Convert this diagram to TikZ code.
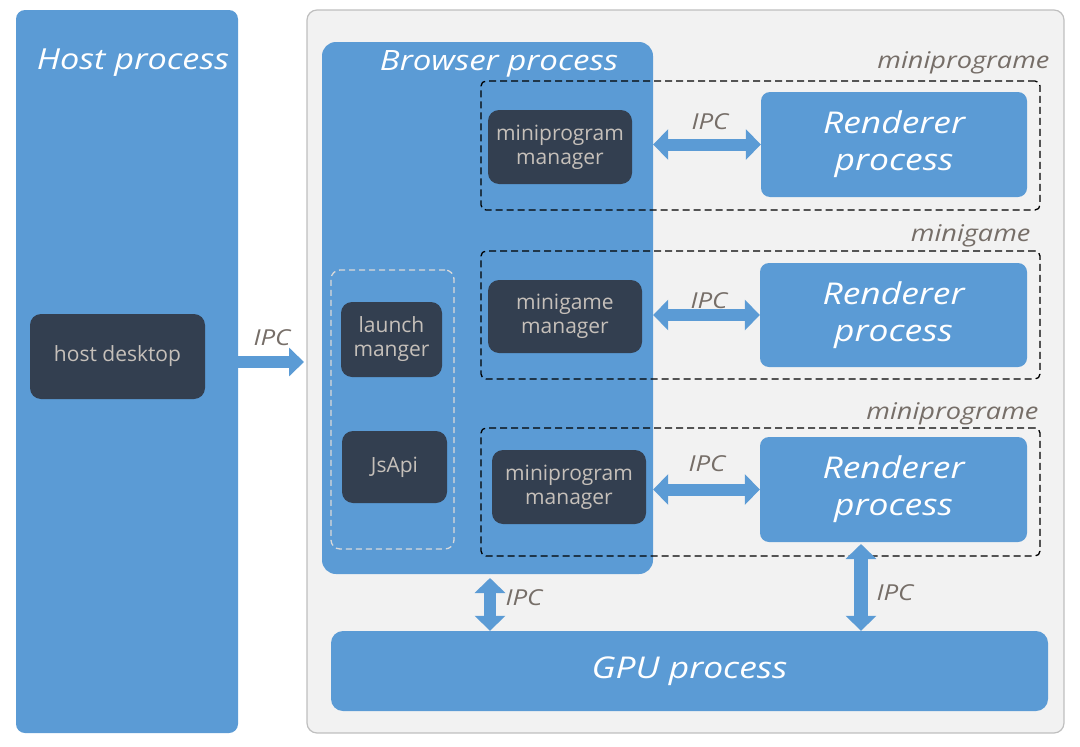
\documentclass[tikz,border=0pt]{standalone}
\usepackage{fontspec}
\setmainfont{Open Sans}
\newfontfamily\hand{Open Sans}[FakeStretch=1.18]
\newfontfamily\ui{Open Sans}
\usetikzlibrary{arrows.meta}
\definecolor{pblue}{HTML}{5B9BD5}
\definecolor{pdark}{HTML}{333F50}
\definecolor{pgraybg}{HTML}{F2F2F2}
\definecolor{pgrayline}{HTML}{BFBFBF}
\definecolor{plight}{HTML}{D9D9D9}
\definecolor{ptext}{HTML}{C6C0BA}
\definecolor{pipc}{HTML}{766E68}
\tikzset{
  bluebox/.style={fill=pblue, draw=none, inner sep=0pt, rounded corners=9pt},
  darkbox/.style={fill=pdark, draw=none, inner sep=0pt, rounded corners=11pt, text=ptext,
    font=\ui\fontsize{21}{24}\selectfont, align=center},
  groupbox/.style={draw=black, dashed, line width=1.3pt, dash pattern=on 7pt off 4pt, rounded corners=5pt, inner sep=0pt},
  title/.style={text=white, font=\hand\itshape\fontsize{30}{37}\selectfont, align=center},
  grouplabel/.style={text=pipc, font=\hand\itshape\fontsize{23}{27}\selectfont},
  ipclabel/.style={text=pipc, font=\hand\itshape\fontsize{22}{26}\selectfont},
  fat/.style={draw=pblue, line width=12pt},
  fatone/.style={fat, -{Triangle[length=15pt,width=28pt]}},
  fattwo/.style={fat, {Triangle[length=15pt,width=30pt]}-{Triangle[length=15pt,width=30pt]}},
}
\begin{document}
\begin{tikzpicture}[x=1pt,y=-1pt]
\useasboundingbox (0,0) rectangle (1080,747);
% containers
\node[bluebox, minimum width=222pt, minimum height=723pt] (host) at (127,371.5) {};
\node[fill=pgraybg, draw=pgrayline, line width=1.2pt, rounded corners=10pt, inner sep=0pt,
  minimum width=757pt, minimum height=723pt] (outer) at (685.5,371.5) {};
\node[bluebox, rounded corners=14pt, minimum width=331pt, minimum height=532pt] (browser) at (487.5,308) {};
% titles
\node[title, font=\hand\itshape\fontsize{29}{34}\selectfont] (hosttitle) at (133,63) {Host process};
\node[title, font=\hand\itshape\fontsize{28}{34}\selectfont] (browsertitle) at (499,64) {Browser process};
% host desktop
\node[darkbox, minimum width=175pt, minimum height=85pt] (desk) at (117.5,356.5) {host desktop};
% group boxes
\node[groupbox, minimum width=559pt, minimum height=129pt] (g1) at (760.5,145.5) {};
\node[groupbox, minimum width=559pt, minimum height=128pt] (g2) at (760.5,315) {};
\node[groupbox, minimum width=559pt, minimum height=128pt] (g3) at (760.5,492) {};
\node[grouplabel, anchor=east] (g1l) at (1053,63) {miniprograme};
\node[grouplabel, anchor=east] (g2l) at (1034,236) {minigame};
\node[grouplabel, anchor=east] (g3l) at (1042,414) {miniprograme};
% light dashed box
\node[draw=plight, dashed, line width=1.3pt, dash pattern=on 6pt off 4pt, rounded corners=9pt, inner sep=0pt,
  minimum width=123pt, minimum height=279pt] (side) at (392.5,409.5) {};
\node[darkbox, minimum width=101pt, minimum height=75pt] (launch) at (391.5,339.5) {launch\\manger};
\node[darkbox, minimum width=105pt, minimum height=72pt] (jsapi) at (394.5,467) {JsApi};
% managers
\node[darkbox, minimum width=144pt, minimum height=74pt] (mm1) at (560,147) {miniprogram\\manager};
\node[darkbox, minimum width=154pt, minimum height=73pt] (mg) at (565,316.5) {minigame\\manager};
\node[darkbox, minimum width=154pt, minimum height=74pt] (mm3) at (569,487) {miniprogram\\manager};
% renderers
\node[bluebox, title, minimum width=266pt, minimum height=105pt] (r1) at (894,144.5) {Renderer\\process};
\node[bluebox, title, minimum width=267pt, minimum height=104pt] (r2) at (893.5,315) {Renderer\\process};
\node[bluebox, title, minimum width=267pt, minimum height=105pt] (r3) at (893.5,489.5) {Renderer\\process};
% gpu
\node[bluebox, title, rounded corners=12pt, minimum width=717pt, minimum height=80pt] (gpu) at (689.5,671) {GPU process};
% arrow end coordinates
\coordinate (a0s) at (host.east |- 0,362);
\coordinate (a0e) at (304,362);
\coordinate (a1s) at (browser.east |- r1.west);
\coordinate (a2s) at (browser.east |- r2.west);
\coordinate (a3s) at (browser.east |- r3.west);
\coordinate (b1s) at (490,578);
\coordinate (b1e) at (b1s |- gpu.north);
\coordinate (c1s) at (861,544);
\coordinate (c1e) at (c1s |- gpu.north);
% arrows
\draw[fatone] (a0s) -- (a0e);
\draw[fattwo] (a1s) -- (r1.west);
\draw[fattwo] (a2s) -- (r2.west);
\draw[fattwo] (a3s) -- (r3.west);
\draw[fattwo] (b1s) -- (b1e);
\draw[fattwo, line width=14pt] (c1s) -- (c1e);
% IPC labels
\node[ipclabel] (ipc0) at (272,338) {IPC};
\node[ipclabel] (ipc1) at (710,122) {IPC};
\node[ipclabel] (ipc2) at (709,301) {IPC};
\node[ipclabel] (ipc3) at (707,464) {IPC};
\node[ipclabel] (ipc4) at (524,598) {IPC};
\node[ipclabel] (ipc5) at (895,593) {IPC};
\end{tikzpicture}
\end{document}
